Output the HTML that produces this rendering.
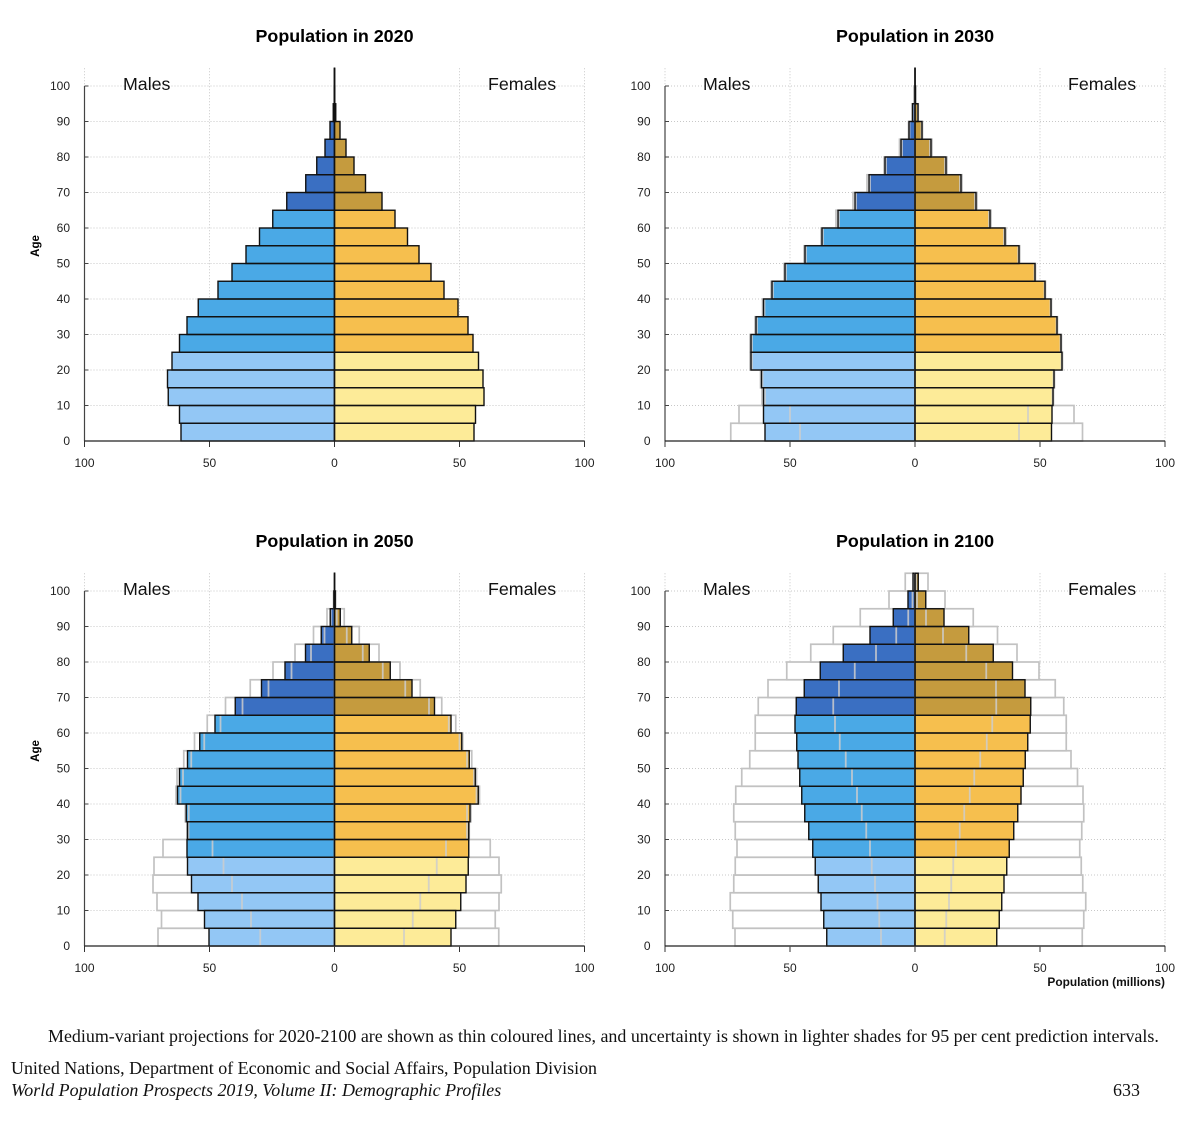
<!DOCTYPE html>
<html lang="en">
<head>
<meta charset="utf-8">
<title>Population pyramids 2020-2100</title>
<style>
html,body{margin:0;padding:0;background:#fff;width:1200px;height:1134px;overflow:hidden}
svg{display:block;font-family:"Liberation Sans",sans-serif}
.title{font-size:17.9px;font-weight:bold;text-anchor:middle;fill:#000}
.sex{font-size:17.8px;fill:#111}
.tick{font-size:12px;fill:#222}
.age-title{font-size:11.5px;font-weight:bold;text-anchor:middle;fill:#000}
.note{font-family:"Liberation Serif",serif;font-size:17.95px;fill:#111}
</style>
</head>
<body>
<svg id="chart" xmlns="http://www.w3.org/2000/svg" width="1200" height="1134" viewBox="0 0 1200 1134">
  <g id="panel-2020"></g>
  <g id="panel-2030"></g>
  <g id="panel-2050"></g>
  <g id="panel-2100"></g>

  <text class="title" x="334.5" y="42">Population in 2020</text>
  <text class="title" x="915" y="42">Population in 2030</text>
  <text class="title" x="334.5" y="547">Population in 2050</text>
  <text class="title" x="915" y="547">Population in 2100</text>

  <text class="sex" x="123" y="90">Males</text>
  <text class="sex" x="488" y="90">Females</text>
  <text class="sex" x="703" y="90">Males</text>
  <text class="sex" x="1068" y="90">Females</text>
  <text class="sex" x="123" y="595">Males</text>
  <text class="sex" x="488" y="595">Females</text>
  <text class="sex" x="703" y="595">Males</text>
  <text class="sex" x="1068" y="595">Females</text>

  <text class="age-title" transform="translate(39 246) rotate(-90)">Age</text>
  <text class="age-title" transform="translate(39 751) rotate(-90)">Age</text>
  <text x="1165" y="986" text-anchor="end" font-size="11.9" font-weight="bold" fill="#111">Population (millions)</text>

  <text class="note" x="48" y="1042">Medium-variant projections for 2020-2100 are shown as thin coloured lines, and uncertainty is shown in lighter shades for 95 per cent prediction intervals.</text>
  <text class="note" x="11" y="1074">United Nations, Department of Economic and Social Affairs, Population Division</text>
  <text class="note" x="11" y="1096" font-style="italic">World Population Prospects 2019, Volume II: Demographic Profiles</text>
  <text class="note" x="1113" y="1096">633</text>
</svg>

<script>
// Age-group start, youngest first (0-4, 5-9 ... 100+). Values are millions.
const ageGroups = [0,5,10,15,20,25,30,35,40,45,50,55,60,65,70,75,80,85,90,95,100];
const yTickLabels = [0,10,20,30,40,50,60,70,80,90,100];
const xTickLabels = [100,50,0,50,100];

const males2020 = [61.4,62,66.5,66.8,65,62,59,54.5,46.6,41,35.4,30,24.7,19.1,11.5,7.1,3.8,1.8,0.5,0.1,0.05];
const females2020 = [55.8,56.4,59.8,59.4,57.6,55.4,53.4,49.4,43.8,38.6,33.8,29.2,24.2,19,12.4,7.8,4.6,2.2,0.5,0.1,0.05];

const males2030 = [60,60.6,60.6,61.4,65.6,65.6,63.6,60.6,57.2,52,44,37.2,30.8,24,18.4,12,5.6,2.4,1,0.2,0.05];
const males2030Upper = [73.7,70.4,61.2,61.8,66,66,64,61,57.6,52.4,44.4,37.6,31.6,24.8,19.2,12.4,6.2,2.6,1.1,0.2,0.05];
const males2030Lower = [46,50,60,61,65.2,65.2,63.2,60.2,56.8,51.6,43.6,36.8,30.4,23.6,18,11.6,5.2,2.2,0.9,0.15,0.03];
const females2030 = [54.6,54.8,55.2,55.6,58.8,58.4,56.8,54.4,52,48,41.6,36,30,24.4,18.4,12.4,6.4,2.8,1.2,0.2,0.05];
const females2030Upper = [67,63.6,55.4,55.8,59,58.6,57,54.6,52.2,48.2,41.9,36.4,30.4,24.8,18.8,12.8,6.8,3,1.3,0.25,0.05];
const females2030Lower = [41.6,45.2,55,55.4,58.6,58.2,56.6,54.2,51.8,47.8,41.3,35.6,29.6,24,18,12,6,2.6,1.1,0.15,0.03];

const males2050 = [50.2,52,54.6,57.2,58.8,59,58.8,59.3,62.8,62,58.8,53.9,47.8,39.7,29.2,19.8,11.6,5.3,1.7,0.3,0.05];
const males2050Upper = [70.6,69.2,71,72.6,72.2,68.6,59,59.7,63.4,63,60.3,56,50.9,43.6,33.7,24.6,15.8,8.4,3,0.4,0.05];
const males2050Lower = [29.7,33.4,37,41,44.4,48.8,58.4,58.3,61.6,60.6,57.3,52.1,45.6,36.8,26.4,17.2,9.4,4,1.5,0.2,0.03];
const females2050 = [46.6,48.5,50.5,52.6,53.5,53.7,53.7,54.2,57.5,56.3,53.9,50.9,46.6,40,31,22.3,13.9,6.9,2.3,0.3,0.05];
const females2050Upper = [65.7,64.3,65.8,66.7,65.8,62.3,53.9,54.6,58,56.8,54.9,51.3,48.5,42.9,34.3,26.2,17.8,9.9,3.9,0.5,0.05];
const females2050Lower = [27.8,31.3,34.3,37.7,40.9,44.6,53,53,56.8,55.8,53,50,45.7,37.8,28.3,19.3,11.3,4.9,0.9,0.2,0.03];

const males2100 = [35.3,36.5,37.6,38.7,39.9,40.9,42.5,44.1,45.3,46.1,46.8,47.3,48,47.5,44.3,37.9,28.7,18,8.7,2.8,0.8];
const males2100Upper = [72,72.9,73.9,72.5,71.9,71.2,71.9,72.5,71.7,69.3,66.1,63.9,63.9,62.7,58.8,51.3,41.7,32.7,21.9,10.4,3.9];
const males2100Lower = [13.6,14.3,15,16,17.3,18,19.5,21.3,23.2,25.2,27.7,30.1,32,32.7,30.4,24.1,15.6,7.5,2.7,1,0.3];
const females2100 = [32.7,33.7,34.7,35.6,36.7,37.7,39.5,41.1,42.4,43.3,44.1,45.1,46.1,46.3,44,39,31.3,21.5,11.6,4.3,1.3];
const females2100Upper = [66.9,67.5,68.3,67.1,66.5,65.9,66.7,67.5,67.2,65,62.4,60.5,60.5,59.5,56.1,49.6,40.8,33,23.3,12,5.2];
const females2100Lower = [11.9,12.5,13.6,14.5,15.3,16.4,17.9,19.7,21.9,23.7,26.1,28.7,30.9,32.5,32.4,28.5,20.5,11.2,4.4,0.8,0.4];

const NS = 'http://www.w3.org/2000/svg';
const PX_PER_MILLION = 2.5;
const PX_PER_YEAR = 3.55;
const MALE_COLORS = ['#93c7f5','#4aa9e6','#3a6fc2'];
const FEMALE_COLORS = ['#fdeb98','#f6bf4e','#c59b3e'];

function make(parent, tag, attrs) {
  const el = document.createElementNS(NS, tag);
  for (const k in attrs) el.setAttribute(k, attrs[k]);
  parent.appendChild(el);
  return el;
}
function colorIndex(age) { return age < 25 ? 0 : age < 65 ? 1 : 2; }

function drawSide(g, sign, cx, y0, label, values, upper, lower, colors) {
  const xOf = v => cx + sign * v * PX_PER_MILLION;
  const yOf = a => y0 - a * PX_PER_YEAR;
  const h = 5 * PX_PER_YEAR;
  const box = v => ({x: Math.min(cx, xOf(v)), width: Math.abs(xOf(v) - cx)});

  if (upper) upper.forEach((v, i) => {
    const b = box(v);
    const r = make(g, 'rect', {x: b.x, y: yOf(ageGroups[i] + 5), width: b.width, height: h, fill: '#fff', stroke: '#c2c2c2', 'stroke-width': 1.7});
    
    
  });
  values.forEach((v, i) => {
    const b = box(v);
    const r = make(g, 'rect', {x: b.x, y: yOf(ageGroups[i] + 5), width: b.width, height: h, fill: colors[colorIndex(ageGroups[i])], stroke: 'none'});
    
    
  });
  if (lower) lower.forEach((v, i) => {
    const l = make(g, 'line', {x1: xOf(v), x2: xOf(v), y1: yOf(ageGroups[i] + 5), y2: yOf(ageGroups[i]), stroke: 'rgba(205,205,205,0.85)', 'stroke-width': 1.8});
    
    
  });
  values.forEach((v, i) => {
    const b = box(v);
    const r = make(g, 'rect', {x: b.x, y: yOf(ageGroups[i] + 5), width: b.width, height: h, fill: 'none', stroke: '#111', 'stroke-width': 1.4});
    
    
  });
}

function drawPanel(id, cx, y0, m, mu, ml, f, fu, fl) {
  const g = document.getElementById(id);
  const xL = cx - 100 * PX_PER_MILLION, xR = cx + 100 * PX_PER_MILLION;
  const yTop = y0 - 105 * PX_PER_YEAR;

  yTickLabels.forEach(a => {
    const y = y0 - a * PX_PER_YEAR;
    if (a > 0) {
      const gl = make(g, 'line', {x1: xL, x2: xR, y1: y, y2: y, stroke: '#c8c8c8', 'stroke-width': 1, 'stroke-dasharray': '1 2'});
      
      
    }
    const t = make(g, 'line', {x1: xL, x2: xL + 4, y1: y, y2: y, stroke: '#444', 'stroke-width': 1});
    
    
    const lab = make(g, 'text', {class: 'tick', x: xL - 14.5, y: y + 4, 'text-anchor': 'end'});
    lab.textContent = a;
    
    
  });

  xTickLabels.forEach((v, i) => {
    const x = xL + i * 50 * PX_PER_MILLION;
    const gl = make(g, 'line', {x1: x, x2: x, y1: yTop, y2: y0, stroke: '#c8c8c8', 'stroke-width': 1, 'stroke-dasharray': '1 2'});
    
    
    const t = make(g, 'line', {x1: x, x2: x, y1: y0, y2: y0 + 6, stroke: '#333', 'stroke-width': 1});
    
    
    const lab = make(g, 'text', {class: 'tick', x: x, y: y0 + 26, 'text-anchor': 'middle'});
    lab.textContent = v;
    
    
  });

  const yAxis = make(g, 'line', {x1: xL, x2: xL, y1: y0 - 100 * PX_PER_YEAR, y2: y0, stroke: '#444', 'stroke-width': 1.2});
  
  

  drawSide(g, -1, cx, y0, 'male', m, mu, ml, MALE_COLORS);
  drawSide(g, 1, cx, y0, 'female', f, fu, fl, FEMALE_COLORS);

  const centre = make(g, 'line', {x1: cx, x2: cx, y1: yTop, y2: y0, stroke: '#111', 'stroke-width': 1.4});
  
  

  const xAxis = make(g, 'line', {x1: xL, x2: xR, y1: y0, y2: y0, stroke: '#222', 'stroke-width': 1.2});
  
  
}

drawPanel('panel-2020', 334.5, 441, males2020, null, null, females2020, null, null);
drawPanel('panel-2030', 915, 441, males2030, males2030Upper, males2030Lower, females2030, females2030Upper, females2030Lower);
drawPanel('panel-2050', 334.5, 946, males2050, males2050Upper, males2050Lower, females2050, females2050Upper, females2050Lower);
drawPanel('panel-2100', 915, 946, males2100, males2100Upper, males2100Lower, females2100, females2100Upper, females2100Lower);
</script>
</body>
</html>
